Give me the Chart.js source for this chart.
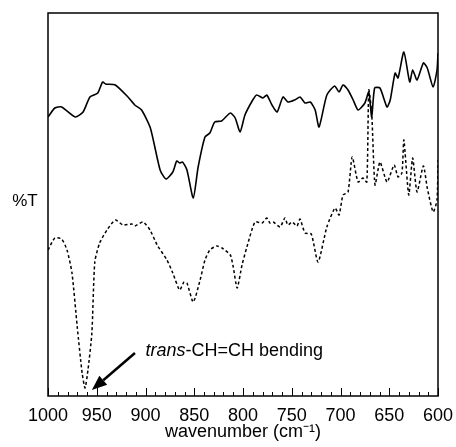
<!DOCTYPE html>
<html>
<head>
<meta charset="utf-8">
<script src="https://cdn.jsdelivr.net/npm/chart.js@4/dist/chart.umd.min.js"></script>
<style>
html,body{margin:0;padding:0;background:#fff;}
#wrap{width:456px;height:447px;}
</style>
</head>
<body>
<div id="wrap"><canvas id="c" width="456" height="447"></canvas></div>
<script>
// wavenumber (cm^-1) and relative transmittance (arbitrary units)
const solidX = [1000,993,986,972,964,957,949,944,941,931,918,911,904,895,885,879,872,868,865,862,857.5,851,846,839,834,829,822,813,808,803,798,790,786,779.5,775.6,770.3,765,759,754,747,741.5,736.4,731,726,722,714,706,701.5,697.4,692.3,687,682,675,671,668,665,659.5,652.3,649,644,641,635,629,626,621.5,615,611,605,601,600];
const solidY = [279,288,289,279,284,299,303,314,312,311,299,291,286,268,226,217,224,235,233,234,226,198,229,259,263,274,275,283,278,264,281,296,301,298,301,291,284,299,294,296,299,293,294,286,269,301,310,304,311,306,296,286,293,304,279,308,308,289,296,323,318,344,314,326,316,333,328,309,326,343];
const dottedX = [1000,993,986,980.5,975.4,970,965,962,959,955,952,947,939.5,931,923,914,911,902.6,895.4,888,878,872,865,860.5,857.5,851,844,839,834,827,821.5,813,810,806,801,796,787.7,780.5,775.6,772.3,769,762,757,754,749.7,744.6,741.5,736.4,730,723,714,705.6,701.5,697.4,692.3,688,682,677,673,671,668,664.6,659.5,652.3,645,641,637,635,630,626,621.5,615,611,605,601,600];
const dottedY = [146,158,157,146,123,69,23,8,26,63,134,153,166,176,171,172,170,174,166,151,136,123,106,114,113,94,116,136,146,150,148,141,129,108,131,149,174,173,178,173,174,169,178,171,174,170,177,163,162,134,169,188,181,201,204,239,214,218,214,306,283,211,234,214,231,219,223,256,201,238,204,230,208,184,196,236];
const xTicks = [1000,950,900,850,800,750,700,650,600];
const annotation = {text1:'trans', text2:'-CH=CH bending', x:900, y:45, tailX:910.8, tailY:43, headX:955, headY:6};

const FONT = "'Liberation Sans', Arial, Helvetica, sans-serif";

const framePlugin = {
  id: 'frame',
  afterDraw(chart) {
    const {ctx, chartArea: a, scales} = chart;
    const xs = scales.x, ys = scales.y;
    ctx.save();
    ctx.strokeStyle = '#000';
    ctx.lineWidth = 1.5;
    ctx.strokeRect(a.left, a.top, a.right - a.left, a.bottom - a.top);
    // inward ticks
    ctx.lineWidth = 1;
    for (let v = 600; v <= 1000; v += 10) {
      const px = Math.round(xs.getPixelForValue(v)) + 0.5;
      const len = (v % 50 === 0) ? 8 : 4;
      ctx.beginPath();
      ctx.moveTo(px, a.bottom);
      ctx.lineTo(px, a.bottom - len);
      ctx.stroke();
    }
    // %T label
    ctx.fillStyle = '#000';
    ctx.font = '17px ' + FONT;
    ctx.textAlign = 'center';
    ctx.textBaseline = 'middle';
    ctx.fillText('%T', 25, ys.getPixelForValue(195));
    // annotation
    const tx = xs.getPixelForValue(annotation.x);
    const ty = ys.getPixelForValue(annotation.y);
    ctx.textAlign = 'left';
    ctx.font = 'italic 18px ' + FONT;
    ctx.fillText(annotation.text1, tx, ty);
    const w1 = ctx.measureText(annotation.text1).width;
    ctx.font = '18px ' + FONT;
    ctx.fillText(annotation.text2, tx + w1, ty);
    // arrow
    const x0 = xs.getPixelForValue(annotation.tailX), y0 = ys.getPixelForValue(annotation.tailY);
    const x1 = xs.getPixelForValue(annotation.headX), y1 = ys.getPixelForValue(annotation.headY);
    const ang = Math.atan2(y1 - y0, x1 - x0);
    const hl = 15, hw = 6;
    const bx = x1 - hl * Math.cos(ang), by = y1 - hl * Math.sin(ang);
    ctx.lineWidth = 2.5;
    ctx.beginPath();
    ctx.moveTo(x0, y0);
    ctx.lineTo(bx, by);
    ctx.stroke();
    ctx.beginPath();
    ctx.moveTo(x1, y1);
    ctx.lineTo(bx + hw * Math.sin(ang), by - hw * Math.cos(ang));
    ctx.lineTo(bx - hw * Math.sin(ang), by + hw * Math.cos(ang));
    ctx.closePath();
    ctx.fill();
    ctx.restore();
  }
};

new Chart(document.getElementById('c'), {
  type: 'line',
  data: {
    datasets: [
      {
        data: solidX.map((x, i) => ({x, y: solidY[i]})),
        borderColor: '#000', borderWidth: 1.6, pointRadius: 0, tension: 0.2, fill: false
      },
      {
        data: dottedX.map((x, i) => ({x, y: dottedY[i]})),
        borderColor: '#000', borderWidth: 1.5, borderDash: [3, 2.5], pointRadius: 0, tension: 0.2, fill: false
      }
    ]
  },
  options: {
    responsive: false,
    animation: false,
    layout: {padding: {left: 48, right: 18, top: 13, bottom: 0}},
    plugins: {legend: {display: false}, tooltip: {enabled: false}},
    scales: {
      x: {
        type: 'linear',
        reverse: true,
        min: 600, max: 1000,
        afterFit(scale) { scale.height = 51; scale.paddingLeft = 0; scale.paddingRight = 0; },
        grid: {display: false, drawTicks: false},
        border: {display: false},
        ticks: {
          stepSize: 10,
          autoSkip: false,
          maxRotation: 0,
          padding: 9,
          color: '#000',
          font: {family: FONT, size: 18},
          callback: (v) => xTicks.includes(v) ? String(v) : ''
        },
        title: {
          display: true,
          text: 'wavenumber (cm\u207B\u00B9)',
          color: '#000',
          font: {family: FONT, size: 18},
          padding: {top: 0, bottom: 4}
        }
      },
      y: {
        display: false,
        min: 0, max: 383
      }
    }
  },
  plugins: [framePlugin]
});
</script>
</body>
</html>
